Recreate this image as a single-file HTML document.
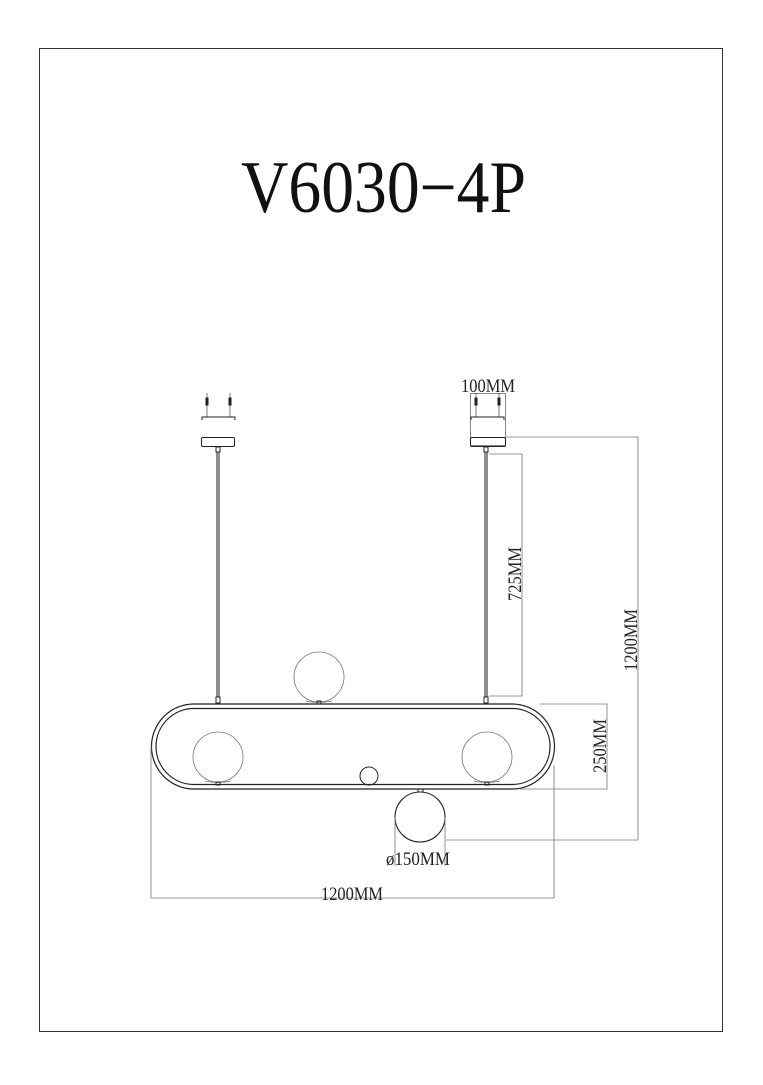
<!DOCTYPE html>
<html><head><style>html,body{margin:0;padding:0;background:#fff}</style></head>
<body>
<svg width="763" height="1080" viewBox="0 0 763 1080" xmlns="http://www.w3.org/2000/svg" font-family="Liberation Serif, serif">
<rect x="39.5" y="48.5" width="683" height="983" fill="none" stroke="#333" stroke-width="1"/>
<text x="241" y="212" font-size="74" textLength="285" lengthAdjust="spacingAndGlyphs" fill="#111">V6030−4P</text>

<g stroke="#222" fill="none" stroke-width="1">
<line x1="207" y1="393" x2="207" y2="417" stroke-width="0.6"/><rect x="206" y="398" width="2" height="7" fill="#222"/>
<line x1="230" y1="393" x2="230" y2="417" stroke-width="0.6"/><rect x="229" y="398" width="2" height="7" fill="#222"/>
<path d="M202 420 V417 H235 V420"/>
<rect x="201.5" y="437.5" width="33" height="9" rx="1.5"/>
<rect x="216" y="447" width="4" height="5"/>
<line x1="217" y1="452" x2="217" y2="697"/><line x1="219" y1="452" x2="219" y2="697"/>
<rect x="216" y="697" width="4" height="6"/>
<rect x="470.5" y="393.5" width="35" height="52" stroke="#555" stroke-width="0.7"/>
<line x1="476" y1="393" x2="476" y2="417" stroke-width="0.6"/><rect x="475" y="398" width="2" height="7" fill="#222"/>
<line x1="499" y1="393" x2="499" y2="417" stroke-width="0.6"/><rect x="498" y="398" width="2" height="7" fill="#222"/>
<path d="M471 420 V417 H504 V420"/>
<rect x="470.5" y="437.5" width="35" height="9" rx="1.5"/>
<rect x="484" y="447" width="4" height="5"/>
<line x1="485" y1="452" x2="485" y2="697"/><line x1="487" y1="452" x2="487" y2="697"/>
<rect x="484" y="697" width="4" height="6"/>
<rect x="151.5" y="704" width="403" height="85" rx="42.5" stroke-width="1.2"/>
<rect x="156" y="708.5" width="394" height="76" rx="38" stroke-width="1.2"/>
<g stroke="#777" stroke-width="0.8">
<circle cx="319" cy="677" r="25"/><path d="M306 701 Q319 704 332 701"/>
<circle cx="218" cy="757" r="25"/><path d="M205 781 Q218 784 231 781"/>
<circle cx="487" cy="757" r="25"/><path d="M474 781 Q487 784 500 781"/>
</g>
<rect x="317" y="701" width="4" height="3"/>
<rect x="216" y="782" width="4" height="3"/>
<rect x="485" y="782" width="4" height="3"/>
<circle cx="369" cy="776" r="9"/>
<rect x="418" y="789" width="5" height="3"/>
<circle cx="420" cy="817" r="25" stroke-width="1.1"/>
</g>
<g stroke="#777" fill="none" stroke-width="0.8">
<path d="M489 454 H522 V696 H489"/>
<path d="M506 437 H638 V840 H446"/>
<path d="M540 704 H607 V789 H520"/>
<path d="M395 817 V866 M445 817 V866"/>
<path d="M151 745 V898 H554 V765"/>
</g>
<g font-size="19" fill="#222">
<text x="488" y="392" text-anchor="middle" textLength="54" lengthAdjust="spacingAndGlyphs">100MM</text>
<text transform="translate(521,574) rotate(-90)" text-anchor="middle" textLength="54" lengthAdjust="spacingAndGlyphs">725MM</text>
<text transform="translate(637,640) rotate(-90)" text-anchor="middle" textLength="62" lengthAdjust="spacingAndGlyphs">1200MM</text>
<text transform="translate(606,746) rotate(-90)" text-anchor="middle" textLength="54" lengthAdjust="spacingAndGlyphs">250MM</text>
<text x="418" y="865" text-anchor="middle" textLength="64" lengthAdjust="spacingAndGlyphs">ø150MM</text>
<text x="352" y="900" text-anchor="middle" textLength="62" lengthAdjust="spacingAndGlyphs">1200MM</text>
</g>
</svg>
</body></html>
